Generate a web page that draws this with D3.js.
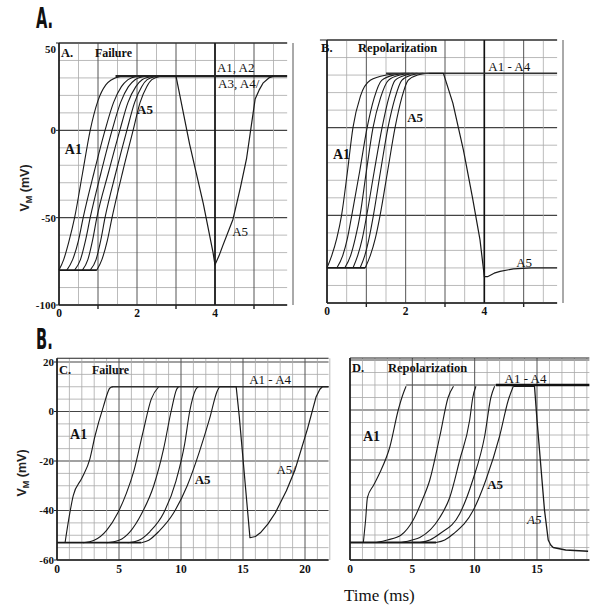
<!DOCTYPE html>
<html><head><meta charset="utf-8">
<script src="https://cdn.jsdelivr.net/npm/d3@7"></script>
<style>body{margin:0;background:#fff}svg{display:block}</style>
</head><body>
<svg id="c" width="600" height="607"></svg>
<script>
// ---------------- DATA (time in ms, voltage in mV) ----------------
const abYTicks = [50, 0, -50, -100];
const abXTicks = [0, 2, 4];
const abXMinorTicks = [1, 3, 5];
const cYTicks = [20, 0, -20, -40, -60];
const cXTicks = [0, 5, 10, 15, 20];
const dXTicks = [0, 5, 10, 15];

// Panel A (Failure)
const aCurve1 = [[0,-80],[0.12,-74],[0.25,-64],[0.4,-50],[0.6,-25],[0.8,0],[1.0,17],[1.2,26],[1.35,29],[1.6,31]];
const aCurve2 = [[0.2,-80],[0.35,-74],[0.5,-63],[0.62,-50],[0.9,-24],[1.18,0],[1.4,16],[1.6,25],[1.77,29],[2.0,31]];
const aCurve3 = [[0.4,-80],[0.55,-74],[0.68,-63],[0.8,-50],[1.08,-24],[1.36,0],[1.58,16],[1.78,25],[1.95,29],[2.2,31]];
const aCurve4 = [[0.6,-80],[0.74,-74],[0.86,-63],[0.97,-50],[1.27,-24],[1.56,0],[1.77,16],[1.97,25],[2.13,29],[2.4,31]];
const aCurve5 = [[0.8,-80],[0.95,-74],[1.07,-63],[1.18,-50],[1.46,-24],[1.74,0],[1.94,16],[2.12,25],[2.26,29],[2.5,31]];
const aCurve6 = [[0.97,-80],[1.1,-74],[1.24,-63],[1.36,-50],[1.63,-24],[1.9,0],[2.08,16],[2.25,25],[2.38,29],[2.6,31]];
const aBaseline = [[0,-80],[0.97,-80]];
const aPlateau = [[1.45,31],[5.85,31]];
const aA5Tail = [[2.6,31],[3.0,31],[3.35,-8],[3.7,-42],[3.95,-70],[4.0,-77],[4.1,-72],[4.2,-66],[4.46,-51],[4.65,-33],[4.81,-16],[5.03,18],[5.13,23],[5.23,27],[5.38,30],[5.5,31]];

// Panel B (Repolarization)
const bCurve1 = [[0,-80],[0.12,-73],[0.25,-63],[0.37,-50],[0.52,-25],[0.66,0],[0.85,18],[1.1,27],[1.5,30],[2.0,31]];
const bCurve2 = [[0.25,-80],[0.4,-73],[0.52,-63],[0.63,-50],[0.83,-25],[1.02,0],[1.2,17],[1.39,27],[1.7,30],[2.1,31]];
const bCurve3 = [[0.45,-80],[0.6,-73],[0.72,-63],[0.84,-50],[1.0,-25],[1.17,0],[1.36,17],[1.56,27],[1.85,30],[2.2,31]];
const bCurve4 = [[0.66,-80],[0.78,-73],[0.9,-63],[1.01,-50],[1.2,-25],[1.4,0],[1.57,17],[1.73,27],[2.0,30],[2.3,31]];
const bCurve5 = [[0.84,-80],[0.96,-73],[1.07,-63],[1.18,-50],[1.36,-25],[1.55,0],[1.73,17],[1.9,27],[2.15,30],[2.45,31]];
const bCurve6 = [[0.97,-80],[1.1,-73],[1.23,-63],[1.35,-50],[1.54,-25],[1.73,0],[1.9,17],[2.06,27],[2.3,30],[2.6,31]];
const bBaseline = [[0,-80],[0.97,-80]];
const bPlateau = [[1.5,31],[5.85,31]];
const bA5Tail = [[2.6,31],[2.96,31],[3.2,14],[3.47,-13],[3.7,-40],[3.89,-64],[4.0,-85],[4.08,-85],[4.25,-83],[4.4,-82],[4.74,-80.5],[5.2,-80],[5.85,-80]];

// Panel C (Failure)
const cCurve1 = [[0.65,-53],[1.0,-42],[1.31,-34],[2.0,-27],[2.66,-19],[3.06,-10],[3.74,2],[4.27,9.5],[4.5,10]];
const cCurve2 = [[2.1,-53],[3.0,-52],[4.0,-48],[4.9,-41],[5.6,-33],[6.2,-24],[6.95,-8],[7.6,5],[8.2,10]];
const cCurve3 = [[4.0,-53],[5.0,-52],[5.9,-48.5],[6.8,-41.5],[7.8,-30],[8.6,-15],[9.2,0],[9.65,9],[9.8,10]];
const cCurve4 = [[5.7,-53],[6.6,-52],[7.5,-48.5],[8.6,-41],[9.6,-28],[10.3,-13],[10.7,0],[11.2,9],[11.4,10]];
const cCurve5 = [[6.8,-53],[7.4,-52],[8.2,-48.5],[9.4,-41],[10.5,-30],[11.5,-16],[12.3,-3],[12.9,8],[13.1,10]];
const cBaseline = [[0,-53],[6.8,-53]];
const cPlateau = [[4.4,10],[21.9,10]];
const cA5Tail = [[13.1,10],[14.45,10],[14.7,-2],[15.56,-51],[16.0,-50.5],[16.4,-49],[17.0,-45.5],[17.6,-41],[18.5,-32],[19.2,-23.5],[20.2,-7],[20.9,6],[21.2,9],[21.4,10],[21.9,10]];

// Panel D (Repolarization)
const dCurve1 = [[1.07,-53],[1.25,-44],[1.4,-35],[1.9,-30],[2.4,-25],[3.2,-14.7],[3.87,0],[4.3,7],[4.5,9.5]];
const dCurve2 = [[2.1,-53],[3.0,-52],[4.1,-50],[5.07,-44],[5.8,-36],[6.4,-28],[7.2,-10.6],[7.87,5],[8.3,9.5]];
const dCurve3 = [[4.1,-53],[5.0,-52],[5.6,-51],[7.2,-43],[8.0,-35],[8.8,-20],[9.6,-4],[9.85,5],[10.1,9.5]];
const dCurve4 = [[5.6,-53],[6.4,-52],[7.2,-49.5],[8.8,-41.5],[9.85,-28],[10.8,-10.5],[11.3,5],[11.6,9.5]];
const dCurve5 = [[6.9,-53],[7.6,-52],[8.3,-49.5],[9.9,-40],[10.9,-28],[12.0,-10.5],[12.7,4],[13.1,9.5]];
const dBaseline = [[0,-53],[6.9,-53]];
const dPlateauThin = [[4.5,10],[11.7,10]];
const dPlateauThick = [[11.7,10],[19.2,10]];
const dA5Tail = [[13.1,9.5],[14.8,9.5],[15.0,-4],[15.3,-22],[15.6,-40],[15.9,-52],[16.1,-54],[16.3,-55],[17.3,-56],[19.1,-56.5]];

// ---------------- DRAWING ----------------
const svg = d3.select('#c');
const SERIF = '"Liberation Serif","DejaVu Serif",serif';

function steps(a, b, s){ const n = Math.round((b - a) / s); return d3.range(n + 1).map(i => a + i * s); }
function isMult(v, m){ const r = v / m; return Math.abs(r - Math.round(r)) < 1e-6; }

function panel(o){
  const g = svg.append('g');
  const x = d3.scaleLinear().domain(o.xd).range(o.xr);
  const y = d3.scaleLinear().domain(o.yd).range(o.yr);
  const yB = o.yd[0], yT = o.yTop, xE = o.xMax;

  steps(yB, yT, o.hStep).forEach(v => {
    if (v > o.yTop) return;
    const major = isMult(v, o.hMajor);
    g.append('line').attr('x1', x(0)).attr('x2', x(xE)).attr('y1', y(v)).attr('y2', y(v))
      .attr('stroke', major ? '#444' : '#a8a8a8').attr('stroke-width', major ? 1.1 : 0.8);
  });
  steps(0, xE, o.vStep).forEach(t => {
    const major = isMult(t, o.vMajor);
    g.append('line').attr('x1', x(t)).attr('x2', x(t)).attr('y1', y(yB)).attr('y2', y(yT))
      .attr('stroke', major ? '#555' : '#aaa').attr('stroke-width', major ? 1 : 0.8);
  });
  (o.boldV || []).forEach(t => {
    g.append('line').attr('x1', x(t)).attr('x2', x(t)).attr('y1', y(yB)).attr('y2', y(yT))
      .attr('stroke', '#111').attr('stroke-width', 1.6);
  });
  g.append('line').attr('x1', x(0)).attr('x2', x(0)).attr('y1', y(yB)).attr('y2', y(yT)).attr('stroke', '#111').attr('stroke-width', 1.5);
  g.append('line').attr('x1', x(0)).attr('x2', x(xE)).attr('y1', y(yB)).attr('y2', y(yB)).attr('stroke', '#222').attr('stroke-width', 1.3);
  g.append('line').attr('x1', x(o.topFrom)).attr('x2', x(xE)).attr('y1', y(yT)).attr('y2', y(yT)).attr('stroke', '#222').attr('stroke-width', 1.1);

  if (o.yTicks) o.yTicks.forEach(v => {
    g.append('line').attr('x1', x(0) - 3).attr('x2', x(0)).attr('y1', y(v)).attr('y2', y(v)).attr('stroke', '#222');
    g.append('text').attr('x', x(0) - 3).attr('y', y(v) + (v === o.yTicks[0] && o.firstShift ? o.firstShift : 0))
      .attr('dy', '0.35em').attr('text-anchor', 'end')
      .attr('font-family', SERIF).attr('font-weight', 'bold').attr('font-size', 11).attr('fill', '#111').text(v);
  });
  o.xTicks.forEach(t => {
    g.append('text').attr('x', x(t)).attr('y', y(yB) + o.xLabDy).attr('text-anchor', 'middle')
      .attr('font-family', SERIF).attr('font-weight', 'bold').attr('font-size', 11.5).attr('fill', '#111').text(t);
  });
  (o.xMinor || []).forEach(t => {
    g.append('line').attr('x1', x(t)).attr('x2', x(t)).attr('y1', y(yB)).attr('y2', y(yB) + 4).attr('stroke', '#222').attr('stroke-width', 1.4);
  });

  o.series.forEach(s => {
    const line = d3.line().x(d => x(d[0])).y(d => y(d[1])).curve(s.linear ? d3.curveLinear : d3.curveMonotoneX);
    g.append('path').attr('d', line(s.data)).attr('fill', 'none')
      .attr('stroke', s.color || '#1a1a1a').attr('stroke-width', s.w || 1.1).attr('stroke-linejoin', 'round');
  });

  o.notes.forEach(n => {
    g.append('text').attr('x', x(n.t)).attr('y', y(n.v))
      .attr('font-family', SERIF).attr('font-weight', n.bold ? 'bold' : 'normal')
      .attr('font-style', n.italic ? 'italic' : 'normal')
      .attr('font-size', n.size || 13).attr('fill', '#111').text(n.s);
  });
  return {x, y};
}

const curveStyle = d => ({data: d});

panel({
  xd: [0, 6], xr: [59, 293], xMax: 5.85, yd: [-100, 50], yr: [305, 43], yTop: 50, topFrom: 0,
  vStep: 0.5, vMajor: 1, hStep: 10, hMajor: 50, boldV: [4],
  yTicks: abYTicks, firstShift: 6, xTicks: abXTicks, xMinor: abXMinorTicks, xLabDy: 12,
  series: [aCurve1, aCurve2, aCurve3, aCurve4, aCurve5, aCurve6].map(curveStyle).concat([
    {data: aBaseline, w: 1.8}, {data: aPlateau, w: 2.2, color: '#222'}, {data: aA5Tail, w: 1.2, linear: true}
  ]),
  notes: [
    {t: 0.05, v: 42, s: 'A.', bold: true, size: 12.5},
    {t: 0.92, v: 42, s: 'Failure', bold: true, size: 12},
    {t: 4.05, v: 33.5, s: 'A1, A2', size: 13},
    {t: 4.08, v: 24.5, s: 'A3, A4/', size: 13},
    {t: 2.0, v: 9.3, s: 'A5', bold: true, size: 13},
    {t: 0.15, v: -13.6, s: 'A1', bold: true, size: 14},
    {t: 4.44, v: -60.3, s: 'A5', size: 13}
  ]
});

panel({
  xd: [0, 6], xr: [327, 563], xMax: 5.85, yd: [-100, 50], yr: [303, 40], yTop: 50, topFrom: -0.18,
  vStep: 0.5, vMajor: 1, hStep: 10, hMajor: 50, boldV: [4],
  yTicks: null, xTicks: abXTicks, xMinor: abXMinorTicks, xLabDy: 12,
  series: [bCurve1, bCurve2, bCurve3, bCurve4, bCurve5, bCurve6].map(curveStyle).concat([
    {data: bBaseline, w: 1.8}, {data: bPlateau, w: 1.6, color: '#333'}, {data: bA5Tail, w: 1.2, linear: true}
  ]),
  notes: [
    {t: -0.15, v: 43.2, s: 'B.', bold: true, size: 12.5},
    {t: 0.79, v: 43.2, s: 'Repolarization', bold: true, size: 12.5},
    {t: 4.1, v: 32.5, s: 'A1 - A4', size: 13},
    {t: 2.04, v: 3.3, s: 'A5', bold: true, size: 13},
    {t: 0.15, v: -17.9, s: 'A1', bold: true, size: 14},
    {t: 4.81, v: -79.5, s: 'A5', size: 13}
  ]
});

panel({
  xd: [0, 20], xr: [57, 305], xMax: 21.9, yd: [-60, 20], yr: [560, 362], yTop: 21.5, topFrom: 0,
  vStep: 1, vMajor: 5, hStep: 5, hMajor: 20,
  yTicks: cYTicks, firstShift: 0, xTicks: cXTicks, xLabDy: 13,
  series: [cCurve1, cCurve2, cCurve3, cCurve4, cCurve5].map(curveStyle).concat([
    {data: cBaseline, w: 1.8}, {data: cPlateau, w: 1.4, color: '#333'}, {data: cA5Tail, w: 1.2, linear: true}
  ]),
  notes: [
    {t: 0.16, v: 15, s: 'C.', bold: true, size: 12.5},
    {t: 2.82, v: 15, s: 'Failure', bold: true, size: 12},
    {t: 15.5, v: 11, s: 'A1 - A4', size: 13},
    {t: 1.05, v: -11.1, s: 'A1', bold: true, size: 14},
    {t: 11.1, v: -29.3, s: 'A5', bold: true, size: 13},
    {t: 17.7, v: -25.3, s: 'A5/', size: 13}
  ]
});

panel({
  xd: [0, 15], xr: [350, 537], xMax: 19.2, yd: [-60, 20], yr: [560, 360], yTop: 20.8, topFrom: 0,
  vStep: 1, vMajor: 5, hStep: 5, hMajor: 20,
  yTicks: null, xTicks: dXTicks, xLabDy: 13,
  series: [dCurve1, dCurve2, dCurve3, dCurve4, dCurve5].map(curveStyle).concat([
    {data: dBaseline, w: 1.8}, {data: dPlateauThin, w: 1.2, color: '#555'}, {data: dPlateauThick, w: 2.4, color: '#111'}, {data: dA5Tail, w: 1.3, linear: true}
  ]),
  notes: [
    {t: 0.16, v: 15.2, s: 'D.', bold: true, size: 12.5},
    {t: 3.05, v: 15.2, s: 'Repolarization', bold: true, size: 12.5},
    {t: 12.4, v: 10.8, s: 'A1 - A4', size: 13},
    {t: 1.04, v: -12.4, s: 'A1', bold: true, size: 14},
    {t: 11.0, v: -31.6, s: 'A5', bold: true, size: 13},
    {t: 14.2, v: -45.6, s: 'A5', italic: true, size: 13}
  ]
});

function yTitle(cx, cy){
  const t = svg.append('text').attr('transform', `translate(${cx},${cy}) rotate(-90)`)
    .attr('text-anchor', 'middle').attr('font-family', '"Liberation Sans",Arial,sans-serif')
    .attr('font-weight', 'bold').attr('font-size', 12.5).attr('fill', '#222');
  t.append('tspan').text('V');
  t.append('tspan').attr('font-size', 9).attr('dy', 3).text('M');
  t.append('tspan').attr('dy', -3).text(' (mV)');
}
yTitle(29, 188);
yTitle(26, 473);

function bigLetter(px, py, s){
  svg.append('text').attr('transform', `translate(${px},${py}) scale(0.58,1)`)
    .attr('font-family', '"DejaVu Sans Condensed","DejaVu Sans",sans-serif').attr('font-weight', 'bold')
    .attr('font-size', 28).attr('fill', '#111').text(s);
}
bigLetter(36, 28, 'A.');
bigLetter(36, 349, 'B.');

svg.append('text').attr('x', 344).attr('y', 601).attr('font-family', SERIF)
  .attr('font-size', 17).attr('fill', '#111').text('Time (ms)');
</script>
</body></html>
